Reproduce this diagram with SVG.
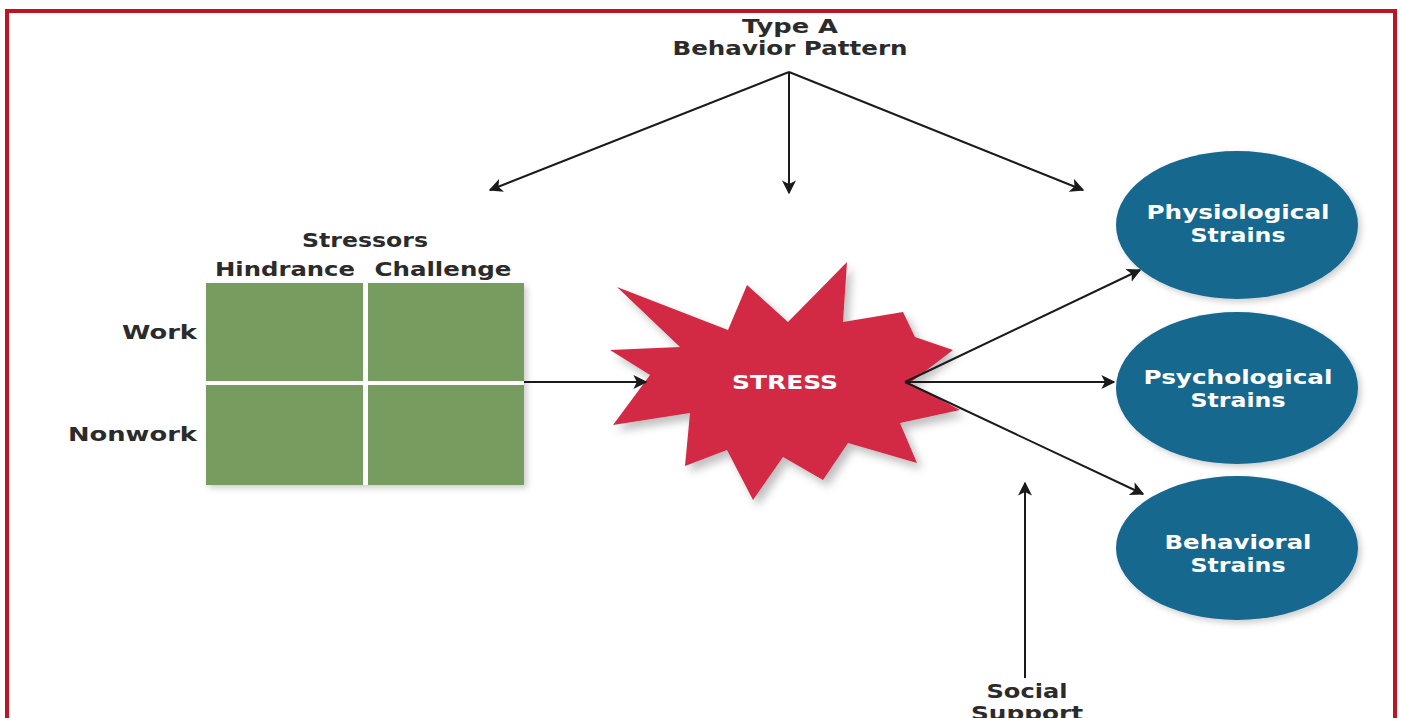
<svg xmlns="http://www.w3.org/2000/svg" width="1401" height="718" viewBox="0 0 1401 718">
  <style>
    .lbl { font-family: "DejaVu Sans", "Liberation Sans", sans-serif; font-weight: 700; font-size: 20px; fill: #2b2b2b; }
    .wht { font-family: "DejaVu Sans", "Liberation Sans", sans-serif; font-weight: 700; font-size: 19px; fill: #ffffff; }
    .cell { fill: #779c61; }
    .strain { fill: #15678e; }
    .conn { stroke: #1a1a1a; stroke-width: 2; fill: none; }
  </style>
  <defs>
    <marker id="ah" viewBox="0 0 10 10" refX="9" refY="5" markerWidth="7" markerHeight="7" orient="auto" markerUnits="strokeWidth">
      <path d="M0,0 L10,5 L0,10 L2.5,5 Z" fill="#1a1a1a"/>
    </marker>
    <filter id="shadow" x="-20%" y="-20%" width="140%" height="140%">
      <feDropShadow dx="5" dy="6" stdDeviation="4" flood-color="#000" flood-opacity="0.25"/>
    </filter>
    <filter id="soft" x="-10%" y="-10%" width="120%" height="120%">
      <feDropShadow dx="3" dy="3" stdDeviation="3" flood-color="#000" flood-opacity="0.2"/>
    </filter>
  </defs>

  <rect width="1401" height="718" fill="#ffffff"/>
  <!-- frame -->
  <path d="M7,718 V11 H1395 V718" fill="none" stroke="#bf1423" stroke-width="4"/>

  <!-- Type A -->
  <g id="type-a">
    <text class="lbl" x="790" y="33" text-anchor="middle" textLength="96" lengthAdjust="spacingAndGlyphs">Type A</text>
    <text class="lbl" x="790" y="55" text-anchor="middle" textLength="235" lengthAdjust="spacingAndGlyphs">Behavior Pattern</text>
  </g>

  <!-- Stressors grid -->
  <g id="stressors">
    <text class="lbl" x="365" y="247" text-anchor="middle" textLength="126" lengthAdjust="spacingAndGlyphs">Stressors</text>
    <text class="lbl" x="285" y="276" text-anchor="middle" textLength="140" lengthAdjust="spacingAndGlyphs">Hindrance</text>
    <text class="lbl" x="443" y="276" text-anchor="middle" textLength="137" lengthAdjust="spacingAndGlyphs">Challenge</text>
    <text class="lbl" x="197" y="339" text-anchor="end" textLength="75" lengthAdjust="spacingAndGlyphs">Work</text>
    <text class="lbl" x="197" y="441" text-anchor="end" textLength="129" lengthAdjust="spacingAndGlyphs">Nonwork</text>
    <rect class="cell" x="206" y="283" width="318" height="202" filter="url(#soft)"/>
    <rect x="363" y="283" width="5" height="202" fill="#ffffff"/>
    <rect x="206" y="381" width="318" height="4" fill="#ffffff"/>
  </g>

  <!-- Stress burst -->
  <g id="stress">
    <polygon filter="url(#shadow)" fill="#d22b45" points="617,287 728,330 747,285 788,322 847,262 843,322 903,312 915,337 953,350 910,383 960,410 900,423 917,463 848,443 823,480 783,457 753,500 727,450 685,466 690,413 613,425 650,375 610,350 680,347"/>
    <text class="wht" x="785" y="389" text-anchor="middle" textLength="106" lengthAdjust="spacingAndGlyphs">STRESS</text>
  </g>

  <!-- Strain outcomes -->
  <g id="physiological">
    <ellipse class="strain" cx="1237" cy="225" rx="121" ry="74" filter="url(#soft)"/>
    <text class="wht" x="1238" y="219" text-anchor="middle" textLength="183" lengthAdjust="spacingAndGlyphs">Physiological</text>
    <text class="wht" x="1238" y="242" text-anchor="middle" textLength="95" lengthAdjust="spacingAndGlyphs">Strains</text>
  </g>
  <g id="psychological">
    <ellipse class="strain" cx="1237" cy="388" rx="121" ry="76" filter="url(#soft)"/>
    <text class="wht" x="1238" y="384" text-anchor="middle" textLength="189" lengthAdjust="spacingAndGlyphs">Psychological</text>
    <text class="wht" x="1238" y="407" text-anchor="middle" textLength="95" lengthAdjust="spacingAndGlyphs">Strains</text>
  </g>
  <g id="behavioral">
    <ellipse class="strain" cx="1237" cy="548" rx="121" ry="72" filter="url(#soft)"/>
    <text class="wht" x="1238" y="549" text-anchor="middle" textLength="147" lengthAdjust="spacingAndGlyphs">Behavioral</text>
    <text class="wht" x="1238" y="572" text-anchor="middle" textLength="95" lengthAdjust="spacingAndGlyphs">Strains</text>
  </g>

  <!-- Social support -->
  <g id="social-support">
    <text class="lbl" x="1027" y="698" text-anchor="middle" textLength="81" lengthAdjust="spacingAndGlyphs">Social</text>
    <text class="lbl" x="1027" y="720" text-anchor="middle" textLength="112" lengthAdjust="spacingAndGlyphs">Support</text>
  </g>

  <!-- connectors -->
  <g id="connectors">
    <line class="conn" x1="789" y1="72" x2="490" y2="190" marker-end="url(#ah)"/>
    <line class="conn" x1="789" y1="72" x2="789" y2="193" stroke-width="3" marker-end="url(#ah)"/>
    <line class="conn" x1="789" y1="72" x2="1083" y2="190" marker-end="url(#ah)"/>
    <line class="conn" x1="524" y1="382" x2="646" y2="382" marker-end="url(#ah)"/>
    <line class="conn" x1="905" y1="382" x2="1140" y2="270" marker-end="url(#ah)"/>
    <line class="conn" x1="905" y1="382" x2="1114" y2="382" marker-end="url(#ah)"/>
    <line class="conn" x1="905" y1="382" x2="1143" y2="494" marker-end="url(#ah)"/>
    <line class="conn" x1="1025" y1="678" x2="1025" y2="483" stroke-width="3" marker-end="url(#ah)"/>
  </g>
</svg>
